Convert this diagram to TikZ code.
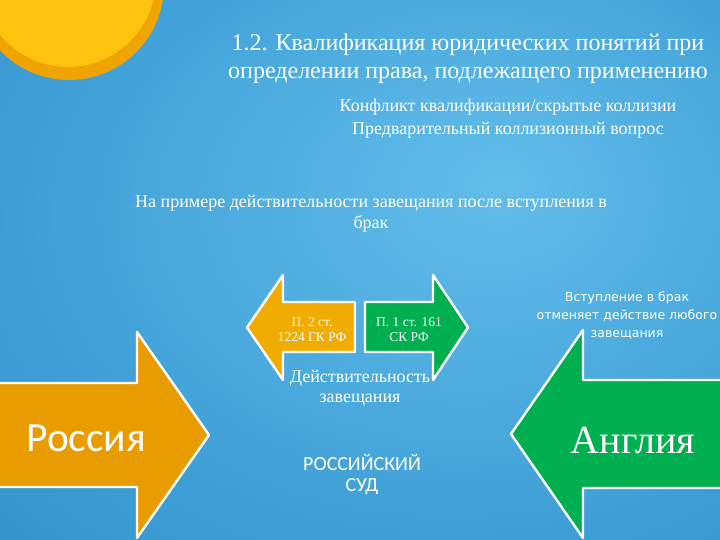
\documentclass[tikz,border=0pt]{standalone}
\usepackage{fontspec}
\setmainfont{Liberation Serif}
\newfontfamily\calib{Carlito}
\newfontfamily\verd{DejaVu Sans}

\definecolor{bgLight}{HTML}{62BDEA}
\definecolor{bgMid}{HTML}{3E9FD6}
\definecolor{bgDark}{HTML}{1C72AC}
\definecolor{sunOuter}{HTML}{F0A400}
\definecolor{sunInner}{HTML}{FFC20E}
\definecolor{ruOrange}{HTML}{E99C00}
\definecolor{smallOrange}{HTML}{F0AC00}
\definecolor{enGreen}{HTML}{00AF50}

\pgfdeclareradialshading{bgshade}{\pgfpoint{10bp}{8bp}}{color(0bp)=(bgLight); color(30bp)=(bgMid); color(75bp)=(bgDark)}

\tikzset{
  arrowbox/.style={draw=white, line width=2.4pt, line join=round},
  txt/.style={text=white, inner sep=0pt, align=center}
}

\begin{document}
\begin{tikzpicture}[x=1pt, y=-1pt]
\useasboundingbox (0,0) rectangle (720,540);
\shade[shading=bgshade] (0,0) rectangle (720,540);

% Draw sun
\begin{scope}
\clip (0,0) rectangle (720,540);
\fill[sunOuter] (69,-15) circle (95);
\fill[sunInner] (68,-21) circle (88);
\end{scope}

% Title
\node[txt, font=\fontsize{24}{28}\selectfont] (title) at (468,59)
  {1.2. Квалификация юридических понятий при\\определении права, подлежащего применению};
\node[txt, font=\fontsize{18}{23}\selectfont] (sub) at (508,118.5)
  {Конфликт квалификации/скрытые коллизии\\Предварительный коллизионный вопрос};
\node[txt, font=\fontsize{18}{21}\selectfont] (example) at (371,213.5)
  {На примере действительности завещания после вступления в\\брак};

% Draw big arrows
\begin{scope}
\clip (0,0) rectangle (720,540);
\draw[arrowbox, fill=ruOrange] (-5,383) -- (137,383) -- (137,332) -- (209,435)
  -- (137,538) -- (137,487) -- (-5,487) -- cycle;
\draw[arrowbox, fill=enGreen] (725,380) -- (583,380) -- (583,330) -- (511,434)
  -- (583,538) -- (583,488) -- (725,488) -- cycle;
\end{scope}

% Draw small arrows
\draw[arrowbox, fill=smallOrange] (355,302) -- (283,302) -- (283,275) -- (247,327.5)
  -- (283,380) -- (283,352) -- (355,352) -- cycle;
\draw[arrowbox, fill=enGreen] (365,302) -- (433,302) -- (433,275) -- (468,327.5)
  -- (433,380) -- (433,352) -- (365,352) -- cycle;

% Labels
\node[txt, font=\fontsize{13.5}{15}\selectfont] (gk) at (312,330) {П. 2 ст.\\1224 ГК РФ};
\node[txt, font=\fontsize{13.5}{15}\selectfont] (sk) at (409,330) {П. 1 ст. 161\\СК РФ};
\node[txt, font=\fontsize{18}{20}\selectfont] (valid) at (360,388) {Действительность\\завещания};
\node[txt, font=\calib\fontsize{20}{21}\selectfont] (court) at (362,474) {РОССИЙСКИЙ\\СУД};
\node[txt, font=\calib\fontsize{41.5}{44}\selectfont] (russia) at (86,438) {Россия};
\node[txt, font=\fontsize{40}{44}\selectfont] (england) at (633,440) {Англия};
\node[txt, font=\verd\fontsize{12.5}{18}\selectfont] (marriage) at (627,316)
  {Вступление в брак\\отменяет действие любого\\завещания};
\end{tikzpicture}
\end{document}
